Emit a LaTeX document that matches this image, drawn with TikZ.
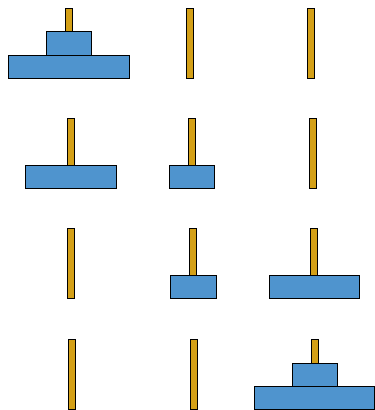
\documentclass[tikz,border=0pt]{standalone}
\definecolor{pegcolor}{RGB}{212,160,23}
\definecolor{diskcolor}{RGB}{79,148,206}
\tikzset{
  peg/.style={draw=black,fill=pegcolor,line width=0.9pt},
  disk/.style={draw=black,fill=diskcolor,line width=0.9pt}
}
\begin{document}
\begin{tikzpicture}[x=1pt,y=-1pt]
\useasboundingbox (0,0) rectangle (375,410);

% Pegs
\foreach \cx/\ty in {68.5/8, 190/8, 311/8,
                     70.5/118, 191.5/118, 312.5/118,
                     71/228, 193/228, 314/228,
                     71.5/339, 193.5/339, 314.5/339}
  \draw[peg] (\cx-3.5,\ty) rectangle (\cx+3.5,\ty+70);

% Row 1
\draw[disk] (8,55) rectangle (129,78);
\draw[disk] (46,31) rectangle (91,55);

% Row 2
\draw[disk] (25,165) rectangle (116,188);
\draw[disk] (169,165) rectangle (214,188);

% Row 3
\draw[disk] (170,275) rectangle (216,298);
\draw[disk] (269,275) rectangle (359,298);

% Row 4
\draw[disk] (254,386) rectangle (374.5,409);
\draw[disk] (292,363) rectangle (337,386);

\end{tikzpicture}
\end{document}
